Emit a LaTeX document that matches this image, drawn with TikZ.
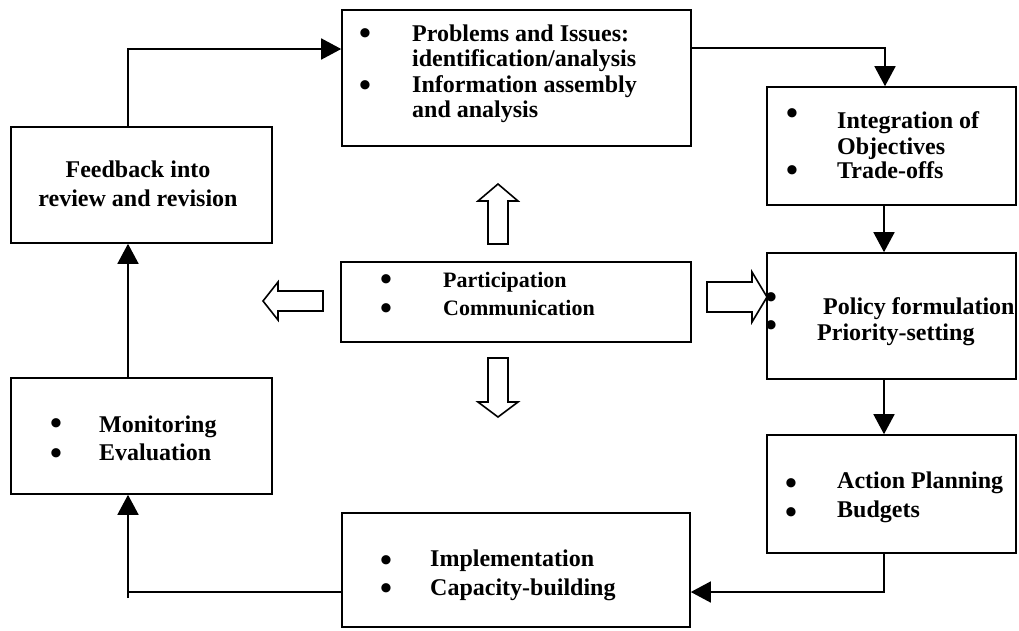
\documentclass[tikz,border=0pt]{standalone}
\usepackage{fontspec}
\setmainfont{Liberation Serif}
\usetikzlibrary{arrows.meta}
\begin{document}
\begin{tikzpicture}[x=1pt,y=-1pt,
  box/.style={draw, line width=1.6pt, inner sep=0pt},
  conn/.style={line width=1.6pt, -{Triangle[length=20pt,width=21pt]}},
  plain/.style={line width=1.6pt},
  hollow/.style={draw, line width=1.6pt, fill=white, line join=miter},
  txt/.style={anchor=base west, inner sep=0pt, font=\fontsize{24}{26}\selectfont\bfseries},
  stxt/.style={anchor=base west, inner sep=0pt, font=\fontsize{22}{24}\selectfont\bfseries},
  ctxt/.style={anchor=base, inner sep=0pt, font=\fontsize{24}{26}\selectfont\bfseries},
  % bullet glyph: base anchor placed 11pt below the bullet centre
  bul/.style={anchor=base, inner sep=0pt, yshift=-11pt, font=\fontsize{34}{34}\selectfont\bfseries}]
\useasboundingbox (0,0) rectangle (1019,630);

% boxes
\node[box, minimum width=349pt, minimum height=136pt] (prob)   at (516.5,78)  {};
\node[box, minimum width=249pt, minimum height=118pt] (integ)  at (891.5,146) {};
\node[box, minimum width=249pt, minimum height=126pt] (policy) at (891.5,316) {};
\node[box, minimum width=249pt, minimum height=118pt] (action) at (891.5,494) {};
\node[box, minimum width=348pt, minimum height=114pt] (impl)   at (516,570)   {};
\node[box, minimum width=261pt, minimum height=116pt] (mon)    at (141.5,436) {};
\node[box, minimum width=261pt, minimum height=116pt] (fb)     at (141.5,185) {};
\node[box, minimum width=350pt, minimum height=80pt]  (part)   at (516,302)   {};

% box texts (bullets placed at their centres)
\node[bul] (pb1) at (365,33) {•};
\node[txt] (pt1) at (412,41) {Problems and Issues:};
\node[txt] (pt2) at (412,66.5) {identification/analysis};
\node[bul] (pb2) at (365,85) {•};
\node[txt] (pt3) at (412,92) {Information assembly};
\node[txt] (pt4) at (412,117.5) {and analysis};

\node[bul] (ib1) at (792,113) {•};
\node[txt] (it1) at (837,128) {Integration of};
\node[txt] (it2) at (837,154) {Objectives};
\node[bul] (ib2) at (792,170) {•};
\node[txt] (it3) at (837,178) {Trade-offs};

\node[bul] (qb1) at (771,297) {•};
\node[txt] (qt1) at (823,314) {Policy formulation};
\node[bul] (qb2) at (771,325) {•};
\node[txt] (qt2) at (817,340) {Priority-setting};

\node[bul] (ab1) at (791,483) {•};
\node[txt] (at1) at (837,488) {Action Planning};
\node[bul] (ab2) at (791,512) {•};
\node[txt] (at2) at (837,517) {Budgets};

\node[bul] (mb1) at (386,560) {•};
\node[txt] (mt1) at (430,566) {Implementation};
\node[bul] (mb2) at (386,588) {•};
\node[txt] (mt2) at (430,595) {Capacity-building};

\node[bul] (eb1) at (56,423) {•};
\node[txt] (et1) at (99,432) {Monitoring};
\node[bul] (eb2) at (56,453) {•};
\node[txt] (et2) at (99,460) {Evaluation};

\node[ctxt] (ft1) at (138,177) {Feedback into};
\node[ctxt] (ft2) at (138,206) {review and revision};

\node[bul] (cb1) at (386,279) {•};
\node[stxt] (ct1) at (443,287) {Participation};
\node[bul] (cb2) at (386,308) {•};
\node[stxt] (ct2) at (443,315) {Communication};

% connector guide points
\coordinate (c1) at (128,49);
\coordinate (c2) at (885,48);
\coordinate (c3) at (884,0);
\coordinate (c5) at (0,592);
\coordinate (c6) at (128,598);

% cycle connectors
\draw[conn] (fb.north -| c1) |- (prob.west |- c1);
\draw[conn] (prob.east |- c2) -| (integ.north -| c2);
\draw[conn] (integ.south -| c3) -- (policy.north -| c3);
\draw[conn] (policy.south -| c3) -- (action.north -| c3);
\draw[conn] (action.south -| c3) |- (impl.east |- c5);
\draw[plain] (impl.west |- c5) -- (c5 -| c1);
\draw[conn] (c6) -- (mon.south -| c1);
\draw[conn] (mon.north -| c1) -- (fb.south -| c1);

% hollow block arrows around the participation box
\draw[hollow] (498,184) -- (518,201) -- (508,201) -- (508,244) -- (488,244) -- (488,201) -- (478,201) -- cycle;
\draw[hollow] (488,358) -- (508,358) -- (508,402) -- (518,402) -- (498,417) -- (478,402) -- (488,402) -- cycle;
\draw[hollow] (263,301) -- (278,282) -- (278,291) -- (323,291) -- (323,311) -- (278,311) -- (278,320) -- cycle;
\draw[hollow] (767,297) -- (752,272) -- (752,282) -- (707,282) -- (707,312) -- (752,312) -- (752,322) -- cycle;
\end{tikzpicture}
\end{document}
